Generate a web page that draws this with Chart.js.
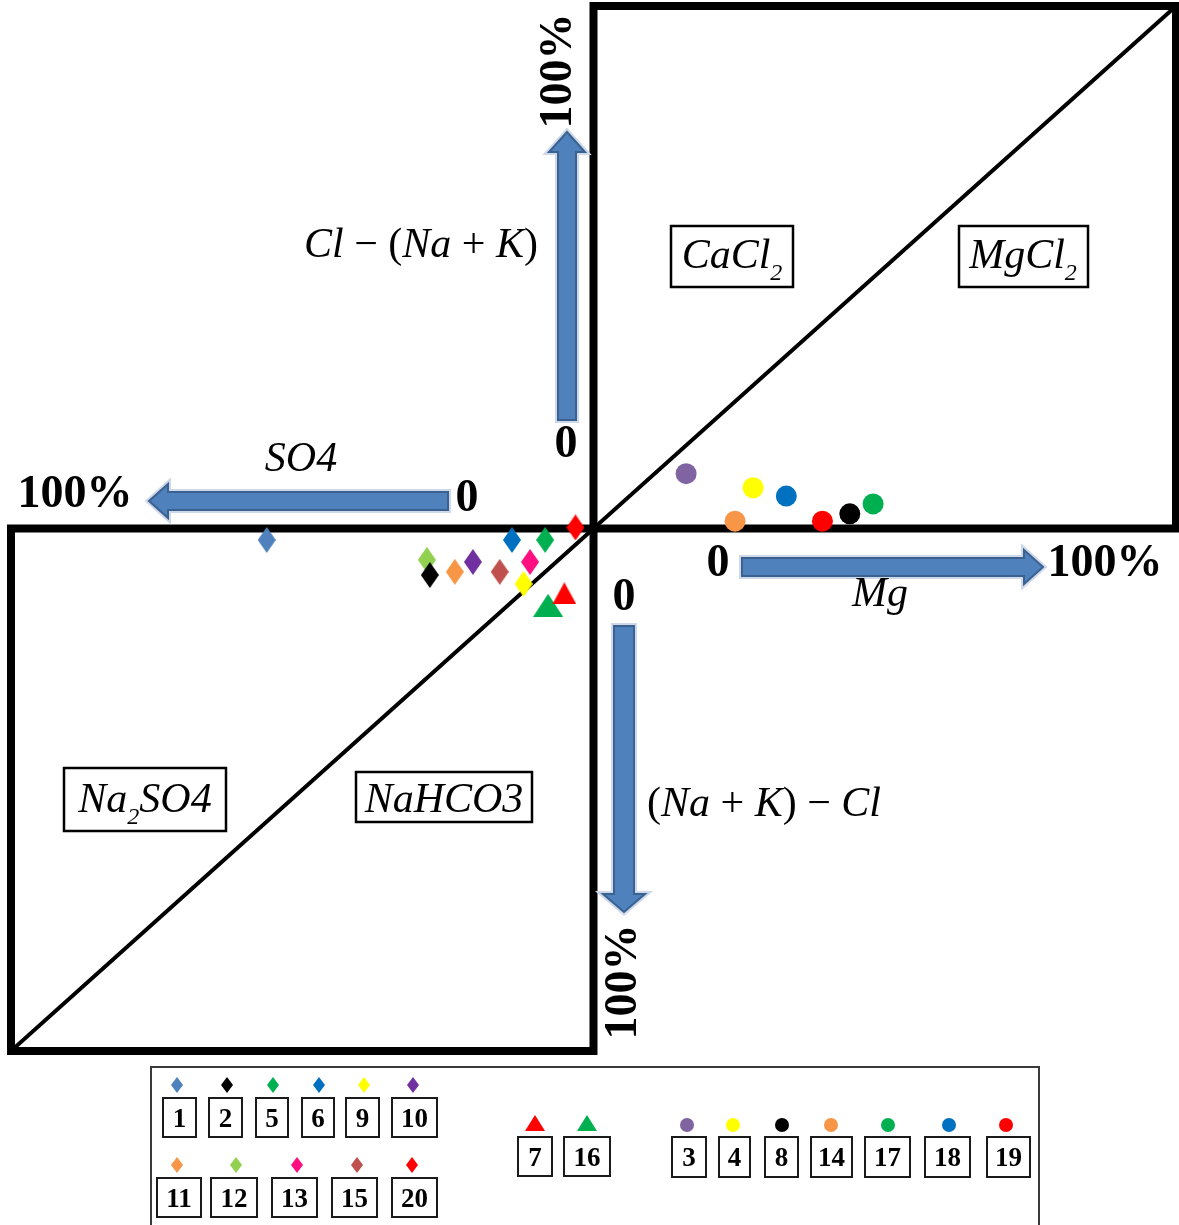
<!DOCTYPE html>
<html>
<head>
<meta charset="utf-8">
<script src="https://cdn.jsdelivr.net/npm/chart.js@4/dist/chart.umd.min.js"></script>
<style>
  html, body { margin: 0; padding: 0; background: #ffffff; }
  #wrap { width: 1179px; height: 1225px; position: relative; }
  canvas { display: block; }
</style>
</head>
<body>
<div id="wrap"><canvas id="sulin" width="1179" height="1225" style="width:1179px;height:1225px"></canvas></div>
<script>
// Sulin genetic classification diagram.
// Upper-right square: x = Mg (%), y = Cl-(Na+K) (%).
// Lower-left square: x = -SO4 (%), y = -((Na+K)-Cl) (%).

// Samples plotted as diamonds (lower-left square)
const diamondIds = ['1', '2', '5', '6', '9', '10', '11', '12', '13', '15', '20'];
const diamondX   = [-56.1, -28.1, -8.3, -14.0, -12.0, -20.7, -23.8, -28.6, -10.9, -16.1, -3.1];
const diamondY   = [-2.2, -8.9, -2.2, -2.2, -10.6, -6.4, -8.3, -6.0, -6.4, -8.3, 0.2];

// Samples plotted as triangles (lower-left square)
const triangleIds = ['7', '16'];
const triangleX   = [-5.0, -7.8];
const triangleY   = [-12.4, -14.7];

// Samples plotted as circles (upper-right square)
const circleIds = ['3', '4', '8', '14', '17', '18', '19'];
const circleX   = [15.9, 27.4, 44.0, 24.3, 48.0, 33.1, 39.3];
const circleY   = [10.5, 7.8, 2.8, 1.4, 4.7, 6.2, 1.4];

// Frame of the two squares and their diagonals
const upperSquareX = [0, 100, 100, 0, 0];
const upperSquareY = [100, 100, 0, 0, 100];
const lowerSquareX = [0, -100, -100, 0, 0];
const lowerSquareY = [0, 0, -100, -100, 0];
const upperDiagX = [0, 100];
const upperDiagY = [0, 100];
const lowerDiagX = [-100, 0];
const lowerDiagY = [-100, 0];

// Marker colours per sample
const sampleColors = {
  '1': '#4F81BD', '2': '#000000', '5': '#00B050', '6': '#0070C0', '9': '#FFFF00',
  '10': '#7030A0', '11': '#F79646', '12': '#92D050', '13': '#FF0F80', '15': '#C0504D',
  '20': '#FF0000', '7': '#FF0000', '16': '#00B050', '3': '#8064A2', '4': '#FFFF00',
  '8': '#000000', '14': '#F79646', '17': '#00B050', '18': '#0070C0', '19': '#FF0000'
};

function zip(xs, ys) { return xs.map((x, i) => ({ x: x, y: ys[i] })); }

function diamondImage(color, w, h) {
  const c = document.createElement('canvas');
  c.width = w; c.height = h;
  const g = c.getContext('2d');
  g.fillStyle = color;
  g.beginPath();
  g.moveTo(w / 2, 0); g.lineTo(w, h / 2); g.lineTo(w / 2, h); g.lineTo(0, h / 2);
  g.closePath(); g.fill();
  return c;
}
function triangleImage(color, w, h) {
  const c = document.createElement('canvas');
  c.width = w; c.height = h;
  const g = c.getContext('2d');
  g.fillStyle = color;
  g.beginPath();
  g.moveTo(w / 2, 0); g.lineTo(w, h); g.lineTo(0, h);
  g.closePath(); g.fill();
  return c;
}

const triangleSizes = { '7': [24, 22], '16': [30, 23] };

const datasets = [];
diamondIds.forEach((id, i) => {
  datasets.push({
    label: id, data: [{ x: diamondX[i], y: diamondY[i] }],
    pointStyle: diamondImage(sampleColors[id], 18, 26),
    order: 1, clip: false
  });
});
triangleIds.forEach((id, i) => {
  const s = triangleSizes[id];
  datasets.push({
    label: id, data: [{ x: triangleX[i], y: triangleY[i] }],
    pointStyle: triangleImage(sampleColors[id], s[0], s[1]),
    order: 1, clip: false
  });
});
circleIds.forEach((id, i) => {
  datasets.push({
    label: id, data: [{ x: circleX[i], y: circleY[i] }],
    pointStyle: 'circle', pointRadius: 10.5, pointBorderWidth: 0,
    backgroundColor: sampleColors[id], borderColor: sampleColors[id],
    order: 1, clip: false
  });
});

function frameLine(label, xs, ys, width) {
  return {
    label: label, type: 'line', data: zip(xs, ys), showLine: true,
    borderColor: '#000000', borderWidth: width, pointRadius: 0,
    borderJoinStyle: 'miter', borderCapStyle: 'square',
    fill: false, tension: 0, order: 10, clip: false
  };
}
datasets.push(frameLine('upperSquare', upperSquareX, upperSquareY, 8));
datasets.push(frameLine('lowerSquare', lowerSquareX, lowerSquareY, 8));
datasets.push(frameLine('upperDiag', upperDiagX, upperDiagY, 4));
datasets.push(frameLine('lowerDiag', lowerDiagX, lowerDiagY, 4));

// Legend layout: marker centre, marker row, and the boxed label
const legendRows = [
  { ids: ['1', '2', '5', '6', '9', '10'], cx: [177, 227, 273, 319, 364, 413],
    box: [[163, 196], [209, 242], [256, 288], [302, 334], [346, 379], [392, 437]],
    markerY: 1085, boxY: [1098, 1137], shape: 'diamond' },
  { ids: ['11', '12', '13', '15', '20'], cx: [177, 236, 297, 357, 412],
    box: [[157, 201], [211, 257], [272, 317], [332, 377], [392, 437]],
    markerY: 1165, boxY: [1178, 1217], shape: 'diamond' },
  { ids: ['7', '16'], cx: [535, 587],
    box: [[518, 552], [564, 610]],
    markerY: 1123, boxY: [1137, 1176], shape: 'triangle' },
  { ids: ['3', '4', '8', '14', '17', '18', '19'], cx: [687, 733, 782, 831, 888, 949, 1006],
    box: [[672, 706], [719, 750], [765, 798], [811, 852], [865, 910], [925, 970], [987, 1030]],
    markerY: 1125, boxY: [1137, 1177], shape: 'circle' }
];

const SERIF = '"Liberation Serif", "Times New Roman", serif';
const IT = 'italic 42px ' + SERIF;
const RG = '42px ' + SERIF;
const SUB = 'italic 24px ' + SERIF;
const NUM = 'bold 46px ' + SERIF;

function drawRuns(ctx, parts, x, y, align) {
  let total = 0;
  parts.forEach(p => { ctx.font = p[1]; total += ctx.measureText(p[0]).width; });
  let cx = align === 'center' ? x - total / 2 : x;
  ctx.textAlign = 'left';
  ctx.textBaseline = 'alphabetic';
  parts.forEach(p => {
    ctx.font = p[1];
    ctx.fillText(p[0], cx, y + (p[2] || 0));
    cx += ctx.measureText(p[0]).width;
  });
}

function arrow(ctx, x0, y0, x1, y1, s, h, hl) {
  const ang = Math.atan2(y1 - y0, x1 - x0);
  const L = Math.hypot(x1 - x0, y1 - y0);
  ctx.save();
  ctx.translate(x0, y0);
  ctx.rotate(ang);
  ctx.beginPath();
  ctx.moveTo(0, -s); ctx.lineTo(L - hl, -s); ctx.lineTo(L - hl, -h); ctx.lineTo(L, 0);
  ctx.lineTo(L - hl, h); ctx.lineTo(L - hl, s); ctx.lineTo(0, s); ctx.closePath();
  ctx.lineJoin = 'miter';
  ctx.strokeStyle = '#cdd8e8'; ctx.lineWidth = 6; ctx.stroke();
  ctx.fillStyle = '#4F81BD'; ctx.fill();
  ctx.strokeStyle = '#3A6190'; ctx.lineWidth = 2; ctx.stroke();
  ctx.restore();
}

function boxedLabel(ctx, x0, y0, x1, y1, parts, tx, ty) {
  ctx.save();
  ctx.fillStyle = '#ffffff';
  ctx.fillRect(x0, y0, x1 - x0, y1 - y0);
  ctx.strokeStyle = '#000000'; ctx.lineWidth = 2.5;
  ctx.strokeRect(x0, y0, x1 - x0, y1 - y0);
  ctx.fillStyle = '#000000';
  drawRuns(ctx, parts, tx, ty, 'center');
  ctx.restore();
}

function rotatedText(ctx, text, cx, cy) {
  ctx.save();
  ctx.translate(cx, cy);
  ctx.rotate(-Math.PI / 2);
  ctx.font = NUM; ctx.textAlign = 'center'; ctx.textBaseline = 'alphabetic';
  ctx.fillStyle = '#000000';
  ctx.fillText(text, 0, 15);
  ctx.restore();
}

const decorPlugin = {
  id: 'sulinDecor',
  afterDraw(chart) {
    const ctx = chart.ctx;
    ctx.save();
    ctx.fillStyle = '#000000';

    // Axis arrows
    arrow(ctx, 567, 420, 567, 132, 9, 18, 20);    // Cl-(Na+K), up
    arrow(ctx, 448, 501, 149, 501, 9, 17, 19);    // SO4, left
    arrow(ctx, 742, 567, 1043, 567, 9, 17, 19);   // Mg, right
    arrow(ctx, 624, 626, 624, 912, 10, 21, 18);   // (Na+K)-Cl, down

    // Scale end labels
    ctx.fillStyle = '#000000';
    ctx.font = NUM; ctx.textAlign = 'center'; ctx.textBaseline = 'alphabetic';
    ctx.fillText('0', 566, 457);
    ctx.fillText('0', 467, 511);
    ctx.fillText('100%', 75, 507);
    ctx.fillText('0', 718, 576);
    ctx.fillText('100%', 1105, 576);
    ctx.fillText('0', 624, 610);
    rotatedText(ctx, '100%', 556, 71);
    rotatedText(ctx, '100%', 621, 982);

    // Axis titles
    drawRuns(ctx, [['Cl', IT], [' \u2212 ', RG], ['(', RG], ['Na', IT], [' + ', RG], ['K', IT], [')', RG]], 421, 257, 'center');
    drawRuns(ctx, [['SO4', IT]], 301, 471, 'center');
    drawRuns(ctx, [['Mg', IT]], 880, 606, 'center');
    drawRuns(ctx, [['(', RG], ['Na', IT], [' + ', RG], ['K', IT], [')', RG], [' \u2212 ', RG], ['Cl', IT]], 764, 816, 'center');

    // Water type labels
    boxedLabel(ctx, 671, 226, 793, 287, [['CaCl', IT], ['2', SUB, 12]], 732, 268);
    boxedLabel(ctx, 959, 226, 1088, 287, [['MgCl', IT], ['2', SUB, 12]], 1023, 268);
    boxedLabel(ctx, 64, 768, 226, 831, [['Na', IT], ['2', SUB, 12], ['SO4', IT]], 145, 812);
    boxedLabel(ctx, 356, 772, 532, 822, [['NaHCO3', IT]], 444, 812);

    // Legend frame
    ctx.strokeStyle = '#3a3a3a'; ctx.lineWidth = 2;
    ctx.beginPath();
    ctx.moveTo(151, 1230); ctx.lineTo(151, 1067); ctx.lineTo(1039, 1067); ctx.lineTo(1039, 1230);
    ctx.stroke();

    // Legend entries
    legendRows.forEach(row => {
      row.ids.forEach((id, i) => {
        const col = sampleColors[id];
        const mx = row.cx[i], my = row.markerY;
        if (row.shape === 'diamond') {
          ctx.drawImage(diamondImage(col, 12, 16), mx - 6, my - 8);
        } else if (row.shape === 'triangle') {
          ctx.drawImage(triangleImage(col, 20, 16), mx - 10, my - 8);
        } else {
          ctx.fillStyle = col;
          ctx.beginPath(); ctx.arc(mx, my, 7, 0, Math.PI * 2); ctx.fill();
        }
        const b = row.box[i];
        ctx.strokeStyle = '#1a1a1a'; ctx.lineWidth = 2;
        ctx.strokeRect(b[0], row.boxY[0], b[1] - b[0], row.boxY[1] - row.boxY[0]);
        ctx.fillStyle = '#000000';
        ctx.font = 'bold 27px ' + SERIF;
        ctx.textAlign = 'center'; ctx.textBaseline = 'alphabetic';
        ctx.fillText(id, (b[0] + b[1]) / 2, (row.boxY[0] + row.boxY[1]) / 2 + 9);
      });
    });
    ctx.restore();
  }
};

new Chart(document.getElementById('sulin'), {
  type: 'scatter',
  data: { datasets: datasets },
  options: {
    responsive: false,
    animation: false,
    devicePixelRatio: 1,
    layout: { autoPadding: false, padding: { left: 11, right: 3, top: 6, bottom: 174 } },
    scales: {
      x: { type: 'linear', min: -100, max: 100, display: false },
      y: { type: 'linear', min: -100, max: 100, display: false }
    },
    plugins: {
      legend: { display: false },
      tooltip: { enabled: false }
    },
    elements: { point: { radius: 10 } }
  },
  plugins: [decorPlugin]
});
</script>
</body>
</html>
